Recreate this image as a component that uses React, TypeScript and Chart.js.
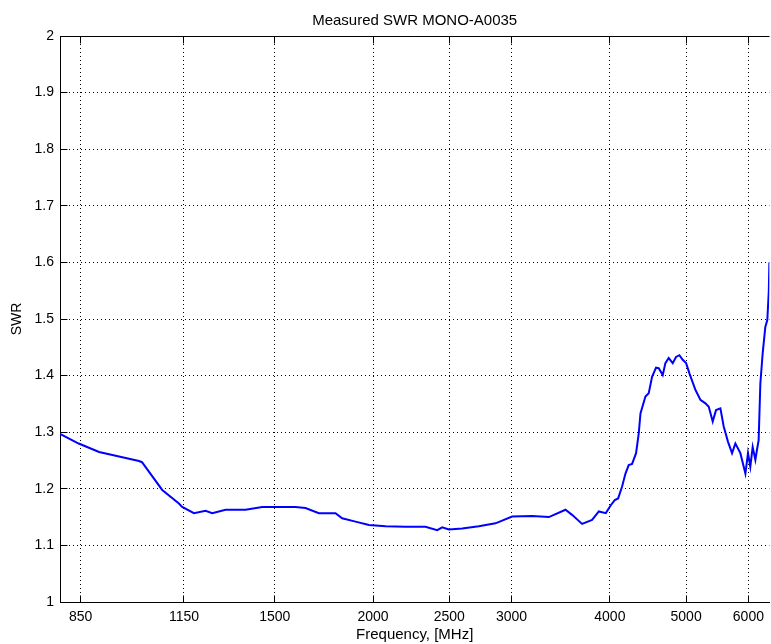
import React, { useEffect, useRef } from "react";
import { Chart, registerables } from "chart.js";

Chart.register(...registerables);

const chartTitle = "Measured SWR MONO-A0035";
const xAxisLabel = "Frequency, [MHz]";
const yAxisLabel = "SWR";

const xTicks = [850, 1150, 1500, 2000, 2500, 3000, 4000, 5000, 6000];
const yTicks = [1, 1.1, 1.2, 1.3, 1.4, 1.5, 1.6, 1.7, 1.8, 1.9, 2];
const yTickLabels = ["1", "1.1", "1.2", "1.3", "1.4", "1.5", "1.6", "1.7", "1.8", "1.9", "2"];

const freqMHz = [
  800, 845, 897, 951, 1008, 1017, 1079, 1133, 1144, 1184, 1225, 1249, 1299, 1311, 1350, 1377,
  1446, 1504, 1594, 1641, 1707, 1792, 1827, 1900, 1976, 2075, 2200, 2332, 2413, 2449, 2497,
  2596, 2726, 2862, 3005, 3186, 3346, 3513, 3581, 3688, 3797, 3873, 3953, 4011, 4058, 4098,
  4146, 4187, 4227, 4269, 4319, 4353, 4375, 4439, 4482, 4526, 4579, 4615, 4670, 4706, 4752,
  4808, 4855, 4903, 4951, 5000, 5049, 5138, 5214, 5291, 5343, 5405, 5458, 5528, 5582, 5653,
  5720, 5776, 5861, 5948, 5993, 6034, 6076, 6124, 6153, 6183, 6214, 6256, 6305, 6342, 6370, 6380,
];

const swr = [
  1.297, 1.28, 1.265, 1.257, 1.249, 1.247, 1.198, 1.174, 1.168, 1.157, 1.161, 1.157, 1.163, 1.163, 1.163, 1.163,
  1.168, 1.168, 1.168, 1.166, 1.157, 1.157, 1.148, 1.142, 1.136, 1.134, 1.133, 1.133, 1.127, 1.132, 1.128,
  1.13, 1.134, 1.139, 1.151, 1.152, 1.15, 1.163, 1.154, 1.138, 1.145, 1.16, 1.157, 1.171, 1.18, 1.183,
  1.204, 1.227, 1.242, 1.244, 1.263, 1.298, 1.333, 1.363, 1.369, 1.398, 1.414, 1.413, 1.401, 1.422, 1.431,
  1.422, 1.433, 1.436, 1.428, 1.422, 1.404, 1.375, 1.357, 1.351, 1.345, 1.319, 1.339, 1.342, 1.31, 1.283,
  1.263, 1.28, 1.263, 1.227, 1.263, 1.239, 1.274, 1.251, 1.269, 1.286, 1.386, 1.439, 1.486, 1.498, 1.55, 1.6,
];

const FONT = "'Liberation Sans', Arial, sans-serif";
const TICK_LEN = 7;

const framePlugin = {
  id: "matlabFrame",
  afterDatasetsDraw(chart: any) {
    const { ctx, chartArea } = chart;
    const xs = chart.scales.x;
    const ys = chart.scales.y;
    const al = (p: number) => Math.round(p - 0.5) + 0.5;
    ctx.save();
    ctx.strokeStyle = "#000";
    ctx.lineWidth = 1;
    ctx.setLineDash([]);
    ctx.beginPath();
    const top = al(chartArea.top);
    const bottom = al(chartArea.bottom);
    const left = al(chartArea.left);
    ctx.moveTo(left, top);
    ctx.lineTo(chartArea.right, top);
    xTicks.forEach((v) => {
      const px = al(xs.getPixelForValue(v));
      ctx.moveTo(px, bottom);
      ctx.lineTo(px, bottom - TICK_LEN);
      ctx.moveTo(px, top);
      ctx.lineTo(px, top + TICK_LEN);
    });
    yTicks.forEach((v) => {
      const py = al(ys.getPixelForValue(v));
      ctx.moveTo(left, py);
      ctx.lineTo(left + TICK_LEN, py);
    });
    ctx.stroke();
    ctx.restore();
  },
};

export default function App() {
  const ref = useRef<HTMLCanvasElement | null>(null);
  useEffect(() => {
    document.body.style.margin = "0";
    const canvas = ref.current;
    if (!canvas) return;
    const points = freqMHz.map((f, i) => ({ x: f, y: swr[i] }));
    const chart = new Chart(canvas, {
      type: "line",
      data: {
        datasets: [
          {
            label: yAxisLabel,
            data: points,
            borderColor: "#0000ff",
            borderWidth: 2,
            pointRadius: 0,
            tension: 0,
            fill: false,
          },
        ],
      },
      options: {
        animation: false,
        responsive: false,
        devicePixelRatio: 1,
        layout: { padding: 0 },
        plugins: {
          legend: { display: false },
          tooltip: { enabled: false },
          title: {
            display: true,
            text: chartTitle,
            fullSize: false,
            color: "#000",
            font: { family: FONT, size: 15, weight: "normal", lineHeight: 1.2 },
            padding: { top: 12, bottom: 6 },
          },
        },
        scales: {
          x: {
            type: "logarithmic",
            min: 800,
            max: 6380,
            afterBuildTicks: (scale: any) => {
              scale.ticks = xTicks.map((v) => ({ value: v }));
            },
            afterFit: (scale: any) => {
              scale.height = 42;
            },
            ticks: {
              autoSkip: false,
              maxRotation: 0,
              padding: 7,
              color: "#000",
              font: { family: FONT, size: 14 },
              callback: (v: any) => String(v),
            },
            grid: { display: true, color: "#000", lineWidth: 1, drawTicks: false },
            border: { display: true, color: "#000", width: 1, dash: [1, 3] },
            title: {
              display: true,
              text: xAxisLabel,
              color: "#000",
              font: { family: FONT, size: 15, lineHeight: 1.2 },
              padding: { top: 0, bottom: 0 },
            },
          },
          y: {
            type: "linear",
            min: 1,
            max: 2,
            afterBuildTicks: (scale: any) => {
              scale.ticks = yTicks.map((v) => ({ value: v }));
            },
            afterFit: (scale: any) => {
              scale.width = 60;
            },
            ticks: {
              autoSkip: false,
              padding: 6,
              color: "#000",
              font: { family: FONT, size: 14 },
              callback: (v: any) => {
                const i = yTicks.findIndex((t) => Math.abs(t - Number(v)) < 1e-6);
                return i >= 0 ? yTickLabels[i] : "";
              },
            },
            grid: { display: true, color: "#000", lineWidth: 1, drawTicks: false },
            border: { display: true, color: "#000", width: 1, dash: [1, 3] },
            title: {
              display: true,
              text: yAxisLabel,
              color: "#000",
              font: { family: FONT, size: 14, lineHeight: 1.2 },
              padding: { top: 9, bottom: 0 },
            },
          },
        },
      },
      plugins: [framePlugin],
    });
    return () => chart.destroy();
  }, []);
  return <canvas ref={ref} width={771} height={644} style={{ display: "block" }} />;
}
